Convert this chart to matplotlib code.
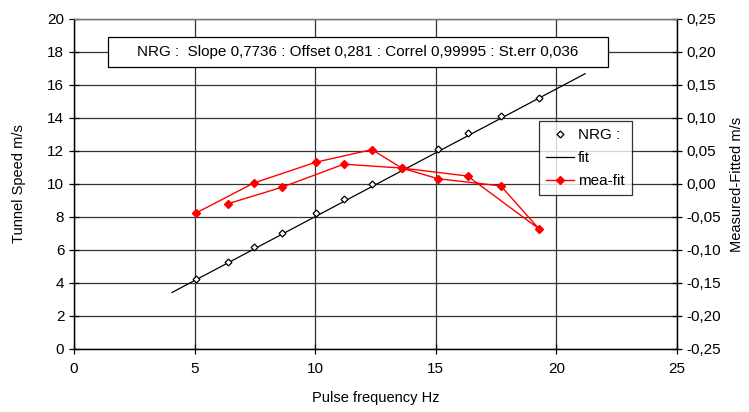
import numpy as np
import matplotlib.pyplot as plt
from matplotlib.patches import Rectangle

plt.rcParams['font.family'] = ['Liberation Sans', 'DejaVu Sans']

#------------------------------------------------------------------------------
# Data read from the chart (measurement order: up on one set, back down on the other)

freq = [5.06, 7.46, 10.03, 12.35, 13.6, 15.08, 17.7, 19.28, 16.32, 13.62, 11.19, 8.62, 6.38]
speed = [4.24, 6.18, 8.24, 10.0, 10.97, 12.12, 14.12, 15.21, 13.09, 10.97, 9.09, 7.03, 5.27]
mea_fit = [-0.044, 0.0015, 0.033, 0.052, 0.024, 0.008, -0.003, -0.068, 0.012, 0.024, 0.030, -0.005, -0.030]

fit_x = [4.06, 21.19]
fit_y = [3.42, 16.68]

note = "NRG :  Slope 0,7736 : Offset 0,281 : Correl 0,99995 : St.err 0,036"

#------------------------------------------------------------------------------
# Plot

fig = plt.figure(figsize=(7.49, 4.12), dpi=100)
ax = fig.add_axes([0.0988, 0.153, 0.805, 0.801])
ax2 = ax.twinx()

ax.set_xlim(0, 25)
ax.set_ylim(0, 20)
ax2.set_ylim(-0.25, 0.25)

ax.set_xticks(np.arange(0, 26, 5))
ax.set_yticks(np.arange(0, 21, 2))
right_ticks = np.round(np.arange(-0.25, 0.26, 0.05), 2)
ax2.set_yticks(right_ticks)
ax2.set_yticklabels([f"{abs(v):.2f}".replace('.', ',') if abs(v) < 1e-9 else f"{v:.2f}".replace('.', ',')
                     for v in right_ticks])

ax.grid(True, color='#333333', linewidth=0.9)
ax.set_axisbelow(True)

l1, = ax.plot(freq, speed, linestyle='none', marker='D', markersize=3.5,
              markerfacecolor='white', markeredgecolor='black', markeredgewidth=0.9,
              label='NRG :', zorder=4)
l2, = ax.plot(fit_x, fit_y, color='black', linewidth=0.9, label='fit', zorder=3)
l3, = ax2.plot(freq, mea_fit, color='red', linewidth=1.0, marker='D', markersize=4,
               markerfacecolor='red', markeredgecolor='red', label='mea-fit')

for a in (ax, ax2):
    for s in a.spines.values():
        s.set_linewidth(0.9)
    a.spines['top'].set_color('#777777')
ax.tick_params(axis='both', labelsize=11, direction='inout', length=7, width=0.9)
ax2.tick_params(axis='y', labelsize=11, direction='inout', length=7, width=0.9)
ax.tick_params(axis='x', pad=6)

ax.set_xlabel('Pulse frequency Hz', fontsize=10.5, labelpad=11)
ax.set_ylabel('Tunnel Speed m/s', fontsize=10.5, labelpad=15)
ax2.set_ylabel('Measured-Fitted m/s', fontsize=10.5, labelpad=6)

# annotation box with the fit summary
ax2.add_patch(Rectangle((0.0564, 0.8545), 0.8296, 0.0905, transform=ax.transAxes,
                        facecolor='white', edgecolor='black', linewidth=0.9, zorder=6))
ax2.text(0.471, 0.90, note, transform=ax.transAxes, ha='center', va='center',
         fontsize=11, zorder=7)

leg = ax2.legend(handles=[l1, l2, l3], loc='upper left', bbox_to_anchor=(0.72, 0.706),
                 bbox_transform=fig.transFigure, fontsize=11, frameon=True, fancybox=False,
                 handlelength=1.8, handletextpad=0.3, borderpad=0.45, labelspacing=0.6,
                 borderaxespad=0)
leg.get_frame().set_edgecolor('black')
leg.get_frame().set_linewidth(0.9)

fig.savefig('out.png', dpi=100)
